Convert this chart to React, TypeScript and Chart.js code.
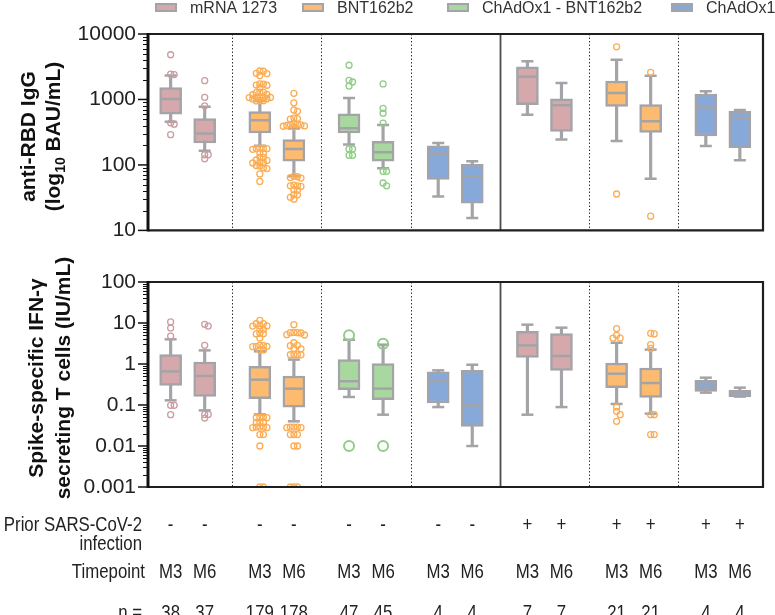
import React, { useEffect, useRef } from 'react';
import { Chart, registerables } from 'chart.js';

Chart.register(...registerables);

// ---------- DATA ----------
const vaccines = ['mRNA 1273', 'BNT162b2', 'ChAdOx1 - BNT162b2', 'ChAdOx1'];
const vaccineFill = ['#d5a9ac', '#fdbb70', '#a9d7a0', '#87a9da'];
const vaccineStroke = ['#cd9ca0', '#fbad55', '#90cd86', '#7b9dd3'];

const colGroup = [0, 0, 1, 1, 2, 2, 3, 3, 4, 4, 5, 5, 6, 6];
const colVaccine = [0, 0, 1, 1, 2, 2, 3, 3, 0, 0, 1, 1, 3, 3];
const timepoints = ['M3', 'M6', 'M3', 'M6', 'M3', 'M6', 'M3', 'M6', 'M3', 'M6', 'M3', 'M6', 'M3', 'M6'];
const priorInfection = ['-', '-', '-', '-', '-', '-', '-', '-', '+', '+', '+', '+', '+', '+'];
const nCounts = [38, 37, 179, 178, 47, 45, 4, 4, 7, 7, 21, 21, 4, 4];

// anti-RBD IgG (BAU/mL)
const igTicks = [10, 100, 1000, 10000];
const igLo = [455, 164, 196, 67, 205, 89, 33, 15.5, 582, 245, 232, 61.5, 194, 118];
const igQ1 = [595, 216, 307, 114, 307, 114, 60, 26, 834, 325, 780, 314, 277, 183];
const igMed = [1021, 303, 481, 175, 363, 156, 148, 67, 2218, 816, 1251, 465, 755, 509];
const igQ3 = [1514, 509, 652, 245, 603, 229, 196, 102, 3144, 1021, 1917, 834, 1210, 659];
const igHi = [2323, 771, 944, 359, 1057, 406, 217, 114, 3846, 1792, 4027, 2296, 1337, 689];
const igOutliers = [
  [4820, 2430, 2400, 440, 420, 290],
  [1940, 1080, 800, 143, 143, 124],
  [2720, 2700, 2510, 2490, 2320, 1730, 1720, 1660, 1650, 1510, 1290, 1280, 1270, 1190, 1180, 1090, 1085, 1080, 1075, 1070, 1025, 1020, 965, 960, 950,
    180, 179, 178, 177, 173, 152, 150, 132, 130, 119, 117, 109, 108, 107, 98, 96, 90, 88, 73, 56],
  [1240, 890, 690, 660, 520, 510, 500, 430, 420, 415, 410, 400, 395, 390, 380,
    67, 66, 64, 63, 49, 48, 48, 47, 42, 41, 35, 35, 32, 30],
  [3330, 1960, 1850, 1600, 175, 175, 140, 140],
  [1730, 730, 617, 435, 80, 80, 53, 48],
  [], [], [], [],
  [6380, 36],
  [2600, 16.5],
  [], [],
];

// Spike-specific IFN-gamma (IU/mL)
const ifnTicks = [0.001, 0.01, 0.1, 1, 10, 100];
const ifnLo = [0.13, 0.074, 0.059, 0.04, 0.157, 0.058, 0.089, 0.01, 0.058, 0.089, 0.106, 0.0615, 0.2, 0.16];
const ifnQ1 = [0.3, 0.163, 0.143, 0.089, 0.237, 0.135, 0.112, 0.03, 1.45, 0.7, 0.265, 0.154, 0.215, 0.16];
const ifnMed = [0.66, 0.51, 0.415, 0.25, 0.38, 0.25, 0.385, 0.098, 2.85, 1.57, 0.58, 0.344, 0.27, 0.207];
const ifnQ3 = [1.69, 1.12, 0.88, 0.51, 1.28, 1.02, 0.64, 0.7, 6.3, 5.5, 1.06, 0.8, 0.4, 0.228];
const ifnHi = [4.0, 2.15, 2.04, 1.28, 3.9, 2.96, 0.7, 0.96, 9.1, 7.7, 3.3, 2.24, 0.464, 0.265];
const ifnOutliers = [
  [10.6, 7.5, 4.8, 0.098, 0.098, 0.058],
  [9.3, 8.4, 2.85, 0.059, 0.059, 0.048],
  [11.6, 9.7, 9.6, 8.6, 8.5, 8.4, 7.0, 6.9, 5.6, 5.5, 5.4, 4.3, 2.85, 2.8, 2.7, 2.7, 2.65, 2.2, 2.2,
    0.05, 0.05, 0.049, 0.049, 0.038, 0.038, 0.037, 0.029, 0.029, 0.029, 0.028, 0.028, 0.019, 0.019, 0.01, 0.001, 0.001],
  [9.1, 5.9, 5.8, 5.8, 5.7, 5.2, 5.1, 3.3, 2.85, 2.8, 2.4, 2.35, 1.7, 1.69, 1.68, 1.67,
    0.029, 0.029, 0.029, 0.028, 0.028, 0.019, 0.019, 0.019, 0.01, 0.01, 0.001, 0.001, 0.001],
  [5.0, 0.01],
  [3.1, 0.01],
  [], [], [], [],
  [7.3, 5.0, 4.3, 4.3, 0.089, 0.07, 0.058, 0.04],
  [5.6, 5.4, 2.96, 2.4, 0.058, 0.058, 0.019, 0.019],
  [], [],
];

// ---------- LAYOUT / STYLE ----------
const FONT = '"Liberation Sans", Arial, Helvetica, sans-serif';
const GREY = '#a4a4a8';
const GROUP_STEP = 2.62;
const X_MIN = -0.665;
const X_MAX = 17.4;
const PX_PER_UNIT = 34.6;
const AXIS_W = 148;
const LEGEND_X = [155, 302, 447, 671];

function colX(i: number) {
  return colGroup[i] * GROUP_STEP + (timepoints[i] === 'M6' ? 1 : 0);
}

function swarmOffsets(vals: number[], pxPerDecade: number, minD: number, step: number): number[] {
  const order = vals.map((_, i) => i).sort((a, b) => vals[b] - vals[a]);
  const placed: [number, number][] = [];
  const res = vals.map(() => 0);
  for (const i of order) {
    const py = Math.log10(vals[i]) * pxPerDecade;
    for (let k = 0; k < 80; k++) {
      const m = k === 0 ? 0 : (k % 2 === 1 ? (k + 1) / 2 : -k / 2);
      const px = m * step;
      if (placed.every(([qx, qy]) => Math.hypot(qx - px, qy - py) >= minD - 1e-6)) {
        placed.push([px, py]);
        res[i] = px / PX_PER_UNIT;
        break;
      }
    }
  }
  return res;
}

function drawNarrow(ctx: CanvasRenderingContext2D, text: string, x: number, y: number, align: CanvasTextAlign) {
  ctx.save();
  ctx.translate(x, y);
  ctx.scale(0.8, 1);
  ctx.textAlign = align;
  ctx.fillText(text, 0, 0);
  ctx.restore();
}

type Part = { t: string; sub?: boolean };
type TitleLine = { parts: Part[]; x: number };

function drawTitle(ctx: CanvasRenderingContext2D, lines: TitleLine[], cy: number) {
  ctx.save();
  ctx.fillStyle = '#111';
  ctx.textBaseline = 'alphabetic';
  ctx.textAlign = 'left';
  for (const line of lines) {
    let total = 0;
    const widths = line.parts.map((p) => {
      ctx.font = p.sub ? `bold 14px ${FONT}` : `bold 21px ${FONT}`;
      const w = ctx.measureText(p.t).width;
      total += w;
      return w;
    });
    ctx.save();
    ctx.translate(line.x, cy);
    ctx.rotate(-Math.PI / 2);
    let x = -total / 2;
    line.parts.forEach((p, k) => {
      ctx.font = p.sub ? `bold 14px ${FONT}` : `bold 21px ${FONT}`;
      ctx.fillText(p.t, x, p.sub ? 5 : 0);
      x += widths[k];
    });
    ctx.restore();
  }
  ctx.restore();
}

type Panel = {
  lo: number[]; q1: number[]; med: number[]; q3: number[]; hi: number[];
  out: number[][]; ticks: number[]; pxPerDecade: number;
  padding: { top: number; bottom: number; left: number; right: number };
  title: TitleLine[]; titleY: number; markerR: number[]; markerW: number[];
  legend: boolean; table: boolean; offsetY: number;
};

function buildChart(canvas: HTMLCanvasElement, p: Panel) {
  const xs = colGroup.map((_, i) => colX(i));
  const datasets: any[] = [];
  datasets.push({
    type: 'bar', label: 'whiskers',
    data: xs.map((x, i) => ({ x, y: [p.lo[i], p.hi[i]] })),
    backgroundColor: GREY, borderWidth: 0, barThickness: 2.5, grouped: false, order: 3,
  });
  datasets.push({
    type: 'bar', label: 'boxes',
    data: xs.map((x, i) => ({ x, y: [p.q1[i], p.q3[i]] })),
    backgroundColor: colVaccine.map((v) => vaccineFill[v]),
    borderColor: GREY, borderWidth: 2.5, borderSkipped: false, barThickness: 22, grouped: false, order: 2,
  });
  datasets.push({
    type: 'scatter', label: 'caps',
    data: xs.flatMap((x, i) => [{ x, y: p.lo[i] }, { x, y: p.hi[i] }]),
    pointStyle: 'line', pointRadius: 6, pointBorderWidth: 2.5, pointBorderColor: GREY, order: 1,
  });
  datasets.push({
    type: 'scatter', label: 'medians',
    data: xs.map((x, i) => ({ x, y: p.med[i] })),
    pointStyle: 'line', pointRadius: 9.5, pointBorderWidth: 2.5, pointBorderColor: GREY, order: 1,
  });
  vaccines.forEach((name, v) => {
    const r = p.markerR[v];
    const pts: { x: number; y: number }[] = [];
    xs.forEach((x, i) => {
      if (colVaccine[i] !== v) return;
      const vals = p.out[i];
      const off = r > 4 ? swarmOffsets(vals, p.pxPerDecade, 2 * r + 1, 4) : swarmOffsets(vals, p.pxPerDecade, 3.6, 3.6);
      vals.forEach((val, k) => pts.push({ x: x + off[k], y: val }));
    });
    datasets.push({
      type: 'scatter', label: name, data: pts,
      pointStyle: 'circle', pointRadius: r, pointBorderWidth: p.markerW[v],
      pointBorderColor: vaccineStroke[v], pointBackgroundColor: 'rgba(255,255,255,0)', order: 0,
    });
  });

  const decor = {
    id: 'decor',
    beforeDatasetsDraw(chart: any) {
      const { ctx, chartArea } = chart;
      const sx = chart.scales.x;
      for (let g = 0; g < 6; g++) {
        const px = Math.round(sx.getPixelForValue(g * GROUP_STEP + 1 + (GROUP_STEP - 1) / 2)) + 0.5;
        ctx.save();
        ctx.beginPath();
        if (g === 3) {
          ctx.strokeStyle = '#4a4a4a'; ctx.lineWidth = 1.8; ctx.setLineDash([]);
        } else {
          ctx.strokeStyle = '#333'; ctx.lineWidth = 1; ctx.setLineDash([1.5, 2]);
        }
        ctx.moveTo(px, chartArea.top); ctx.lineTo(px, chartArea.bottom);
        ctx.stroke();
        ctx.restore();
      }
    },
    afterDatasetsDraw(chart: any) {
      const { ctx, chartArea } = chart;
      const { left, right, top, bottom } = chartArea;
      const sy = chart.scales.y;
      ctx.save();
      ctx.strokeStyle = '#1e1e1e';
      ctx.lineWidth = 2.2;
      ctx.beginPath();
      ctx.moveTo(left, top); ctx.lineTo(right, top); ctx.lineTo(right, bottom); ctx.lineTo(left, bottom);
      ctx.stroke();
      ctx.strokeStyle = '#111';
      ctx.lineWidth = 3;
      ctx.beginPath();
      ctx.moveTo(left, top - 1); ctx.lineTo(left, bottom + 1);
      ctx.stroke();
      p.ticks.forEach((d, k) => {
        const y = sy.getPixelForValue(d);
        ctx.lineWidth = 1.5;
        ctx.beginPath(); ctx.moveTo(left - 10, y); ctx.lineTo(left, y); ctx.stroke();
        if (k < p.ticks.length - 1) {
          ctx.lineWidth = 1;
          for (let m = 2; m <= 9; m++) {
            const ym = Math.round(sy.getPixelForValue(d * m)) + 0.5;
            ctx.beginPath(); ctx.moveTo(left - 5, ym); ctx.lineTo(left, ym); ctx.stroke();
          }
        }
      });
      ctx.restore();
    },
    afterDraw(chart: any) {
      const { ctx } = chart;
      drawTitle(ctx, p.title, p.titleY);
      if (p.legend) {
        ctx.save();
        ctx.font = `16px ${FONT}`;
        ctx.textBaseline = 'alphabetic';
        ctx.textAlign = 'left';
        vaccines.forEach((name, v) => {
          const x = LEGEND_X[v];
          ctx.fillStyle = vaccineFill[v];
          ctx.fillRect(x, 3, 22, 9);
          ctx.strokeStyle = GREY;
          ctx.lineWidth = 2;
          ctx.strokeRect(x + 1, 4, 20, 7);
          ctx.fillStyle = '#333';
          ctx.fillText(name, x + 35, 13);
        });
        ctx.restore();
      }
      if (p.table) {
        const sx = chart.scales.x;
        const oy = -p.offsetY;
        ctx.save();
        ctx.fillStyle = '#222';
        ctx.font = `21px ${FONT}`;
        ctx.textBaseline = 'alphabetic';
        const labelRight = 142;
        drawNarrow(ctx, 'Prior SARS-CoV-2', labelRight, 531 + oy, 'right');
        drawNarrow(ctx, 'infection', labelRight, 550 + oy, 'right');
        drawNarrow(ctx, 'Timepoint', labelRight + 3, 578 + oy, 'right');
        drawNarrow(ctx, 'n =', labelRight, 619 + oy, 'right');
        colGroup.forEach((_, i) => {
          const px = sx.getPixelForValue(colX(i));
          drawNarrow(ctx, priorInfection[i], px, 531 + oy, 'center');
          drawNarrow(ctx, timepoints[i], px, 578 + oy, 'center');
          drawNarrow(ctx, String(nCounts[i]), px, 619 + oy, 'center');
        });
        ctx.restore();
      }
    },
  };

  return new Chart(canvas, {
    type: 'bar',
    data: { datasets },
    options: {
      responsive: false,
      maintainAspectRatio: false,
      animation: false,
      devicePixelRatio: 1,
      events: [],
      layout: { padding: p.padding },
      plugins: { legend: { display: false }, tooltip: { enabled: false } },
      scales: {
        x: { type: 'linear', display: false, min: X_MIN, max: X_MAX, offset: false },
        y: {
          type: 'logarithmic',
          min: p.ticks[0],
          max: p.ticks[p.ticks.length - 1],
          afterBuildTicks: (s: any) => { s.ticks = p.ticks.map((v) => ({ value: v, major: true })); },
          afterFit: (s: any) => { s.width = AXIS_W; },
          ticks: {
            autoSkip: false,
            padding: 12,
            color: '#222',
            font: { family: FONT, size: 21 },
            callback: (v: any) => String(v),
          },
          grid: { display: false, drawTicks: false },
          border: { display: false },
        },
      },
    } as any,
    plugins: [decor],
  } as any);
}

const topPanel: Panel = {
  lo: igLo, q1: igQ1, med: igMed, q3: igQ3, hi: igHi, out: igOutliers,
  ticks: igTicks, pxPerDecade: 68.3,
  padding: { top: 34, bottom: 16, left: 0, right: 2 },
  title: [
    { parts: [{ t: 'anti-RBD IgG' }], x: 35 },
    { parts: [{ t: '(log' }, { t: '10', sub: true }, { t: ' BAU/mL)' }], x: 60 },
  ],
  titleY: 136.5,
  markerR: [3, 3, 3, 3], markerW: [1.3, 1.3, 1.3, 1.3],
  legend: true, table: false, offsetY: 0,
};

const bottomPanel: Panel = {
  lo: ifnLo, q1: ifnQ1, med: ifnMed, q3: ifnQ3, hi: ifnHi, out: ifnOutliers,
  ticks: ifnTicks, pxPerDecade: 41,
  padding: { top: 27, bottom: 128, left: 0, right: 2 },
  title: [
    { parts: [{ t: 'Spike-specific IFN-γ' }], x: 43 },
    { parts: [{ t: 'secreting T cells (IU/mL)' }], x: 70 },
  ],
  titleY: 123,
  markerR: [3, 3, 5, 3], markerW: [1.3, 1.3, 2, 1.3],
  legend: false, table: true, offsetY: 255,
};

export default function App() {
  const topRef = useRef<HTMLCanvasElement>(null);
  const botRef = useRef<HTMLCanvasElement>(null);
  useEffect(() => {
    const c1 = buildChart(topRef.current as HTMLCanvasElement, topPanel);
    const c2 = buildChart(botRef.current as HTMLCanvasElement, bottomPanel);
    return () => {
      c1.destroy();
      c2.destroy();
    };
  }, []);
  return (
    <div style={{ position: 'absolute', left: 0, top: 0, width: 775, height: 615, background: '#fff', overflow: 'hidden' }}>
      <canvas ref={topRef} width={775} height={255} style={{ position: 'absolute', left: 0, top: 0, width: 775, height: 255 }} />
      <canvas ref={botRef} width={775} height={360} style={{ position: 'absolute', left: 0, top: 255, width: 775, height: 360 }} />
    </div>
  );
}
